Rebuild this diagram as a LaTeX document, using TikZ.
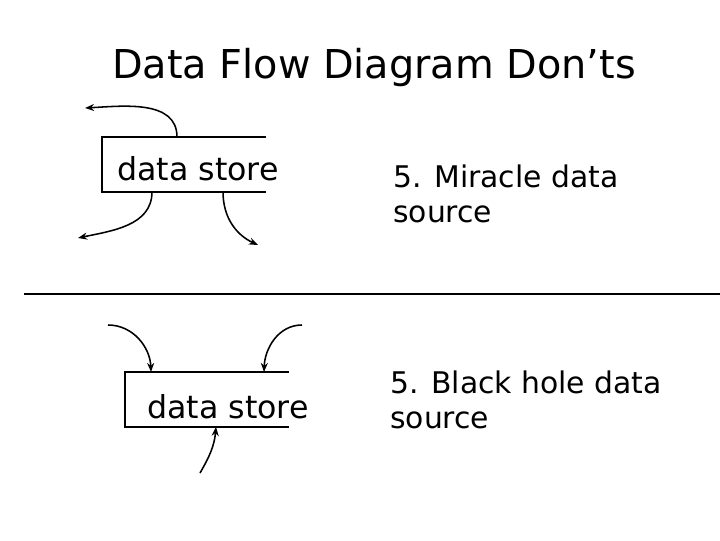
\documentclass[tikz,border=0pt]{standalone}
\usepackage{fontspec}
\setmainfont{DejaVu Sans}
\usetikzlibrary{arrows.meta}
\tikzset{
  flow/.style={
    line width=1.1pt,
    -{Stealth[length=6.5pt,width=5pt]}
  },
  storebox/.style={
    minimum width=4.1cm,
    minimum height=1.37cm,
    inner sep=0pt,
    outer sep=0pt
  },
  storetext/.style={
    font=\fontsize{22.5}{25}\selectfont,
    inner sep=0pt
  },
  dontnote/.style={
    font=\fontsize{21.2}{24.8}\selectfont,
    align=left,
    inner sep=0pt
  }
}

\begin{document}
\begin{tikzpicture}[x=0.025cm,y=-0.025cm]
  \useasboundingbox (0,0) rectangle (720,540);
  % title
  \node[font=\fontsize{28.3}{34}\selectfont, anchor=base, inner sep=0pt] (title) at (374,78) {Data Flow Diagram Don’ts};

  % miracle source
  \node[storebox, anchor=north west] (store1) at (102,137) {};
  \node[storetext, anchor=base west] (label1) at (117,180) {data store};
  \draw[line width=1.1pt] (store1.north east) -- (store1.north west) -- (store1.south west) -- (store1.south east);
  \coordinate (out1) at (85,108);
  \coordinate (out2) at (78,238);
  \coordinate (out3) at (258,245);
  \draw[flow] ([xshift=75*0.025cm]store1.north west) to[out=90,in=3] (out1);
  \draw[flow] ([xshift=50*0.025cm]store1.south west) to[out=-90,in=12] (out2);
  \draw[flow] ([xshift=121*0.025cm]store1.south west) to[out=-90,in=155] (out3);
  \node[dontnote, anchor=base west] (note1) at (393,222) {5. Miracle data\\source};

  % divider
  \coordinate (cutl) at (24,294);
  \coordinate (cutr) at (720,294);
  \draw[line width=1.1pt] (cutl) -- (cutr);

  % black hole
  \node[storebox, anchor=north west] (store2) at (125,372) {};
  \node[storetext, anchor=base west] (label2) at (147,418) {data store};
  \draw[line width=1.1pt] (store2.north east) -- (store2.north west) -- (store2.south west) -- (store2.south east);
  \coordinate (in1) at (108,325);
  \coordinate (in2) at (302,325);
  \coordinate (in3) at (200,473);
  \draw[flow] (in1) to[out=0,in=92] ([xshift=26*0.025cm]store2.north west);
  \draw[flow] (in2) to[out=180,in=88] ([xshift=139*0.025cm]store2.north west);
  \draw[flow] (in3) to[out=60,in=-95] ([xshift=91*0.025cm]store2.south west);
  \node[dontnote, anchor=base west] (note2) at (390,428) {5. Black hole data\\source};
\end{tikzpicture}
\end{document}
